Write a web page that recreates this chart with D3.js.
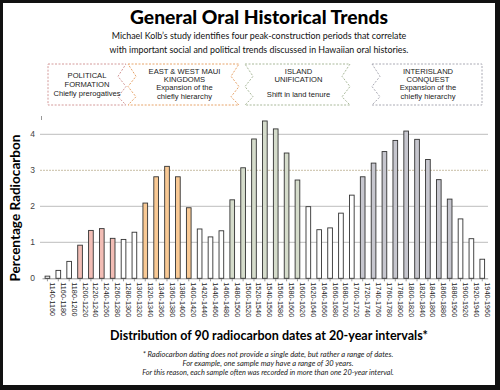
<!DOCTYPE html>
<html><head><meta charset="utf-8">
<script src="https://cdn.jsdelivr.net/npm/d3@7"></script>
<style>
html,body{margin:0;padding:0;background:#fff;}
svg{display:block;}
</style></head>
<body>
<script>
// ---- data ----
const categories = ["1140-1160","1160-1180","1180-1200","1200-1220","1220-1240","1240-1260","1260-1280","1280-1300","1300-1320","1320-1340","1340-1360","1360-1380","1380-1400","1400-1420","1420-1440","1440-1460","1460-1480","1480-1500","1500-1520","1520-1540","1540-1560","1560-1580","1580-1600","1600-1620","1620-1640","1640-1660","1660-1680","1680-1700","1700-1720","1720-1740","1740-1760","1760-1780","1780-1800","1800-1820","1820-1840","1840-1860","1860-1880","1880-1900","1900-1920","1920-1940","1940-1960"];
const values = [0.06,0.22,0.47,0.92,1.33,1.38,1.11,1.08,1.28,2.09,2.82,3.11,2.82,1.96,1.37,1.15,1.32,2.18,3.07,3.87,4.37,4.15,3.48,2.73,1.99,1.35,1.40,1.81,2.31,2.82,3.20,3.52,3.83,4.09,3.86,3.30,2.74,2.20,1.65,1.10,0.53];
const yTicks = [0,1,2,3,4];
const periodNames = ["political","maui","unification","conquest"];
const periodFrom = ["1200-1220","1320-1340","1480-1500","1720-1740"];
const periodTo   = ["1260-1280","1400-1420","1600-1620","1880-1900"];
const periodLines = [
  ["POLITICAL","FORMATION","Chiefly prerogatives"],
  ["EAST & WEST MAUI","KINGDOMS","Expansion of the","chiefly hierarchy"],
  ["ISLAND","UNIFICATION","","Shift in land tenure"],
  ["INTERISLAND","CONQUEST","Expansion of the","chiefly hierarchy"]
];
const title = "General Oral Historical Trends";
const subtitle = ["Michael Kolb\u2019s study identifies four peak-construction periods that correlate","with important social and political trends discussed in Hawaiian oral histories."];
const yLabel = "Percentage Radiocarbon";
const xLabel = "Distribution of 90 radiocarbon dates at 20-year intervals*";
const footnotes = ["* Radiocarbon dating does not provide a single date, but rather a range of dates.","For example, one sample may have a range of 30 years.","For this reason, each sample often was recorded in more than one 20-year interval."];

// ---- styles ----
const fillColors = {political:"#f2bdb5", maui:"#f9c994", unification:"#d5dccb", conquest:"#c6c6ce"};
const strokeColors = {political:"#d49a9a", maui:"#e7a46a", unification:"#a9b99a", conquest:"#aaaab4"};

const W = 500, H = 390;
const svg = d3.select("body").append("svg").attr("width", W).attr("height", H);

// frame
svg.append("rect").attr("x",0).attr("y",0).attr("width",W).attr("height",H).attr("fill","#111");
svg.append("rect").attr("x",3).attr("y",3).attr("width",492).attr("height",382).attr("fill","#fff");

function fitText(sel, target){
  const n = sel.node(); const fs = parseFloat(sel.attr("font-size"));
  const w = n.getComputedTextLength();
  if (w > 0) sel.attr("font-size", (fs*target/w).toFixed(2));
}

// title
const t = svg.append("text").attr("x",259).attr("y",23.5).attr("text-anchor","middle")
  .attr("font-family","Lato, 'DejaVu Sans', sans-serif").attr("font-weight",900).attr("font-size",19)
  .attr("fill","#000").text(title);
fitText(t, 258);

subtitle.forEach((s,i)=>{
  const st = svg.append("text").attr("x",259).attr("y",39.3+13.3*i).attr("text-anchor","middle")
    .attr("font-family","Lato, sans-serif").attr("font-size",11).attr("fill","#111").text(s);
  fitText(st, i===0?295:299);
});

// scales
const x = d3.scaleBand().domain(categories).range([42, 487.7]).paddingInner(0.57).paddingOuter(0.285);
const y = d3.scaleLinear().domain([0,4]).range([278.3, 134.3]);

const periodOf = {};
periodNames.forEach((p,k)=>{
  const a = categories.indexOf(periodFrom[k]), b = categories.indexOf(periodTo[k]);
  for(let i=a;i<=b;i++) periodOf[categories[i]] = p;
});

// gridlines
svg.append("g").selectAll("line").data(yTicks.filter(d=>d>0)).join("line")
  .attr("x1",40).attr("x2",488).attr("y1",d=>y(d)).attr("y2",d=>y(d))
  .attr("stroke",d=>d===3?"#c9bfa5":"#bdbdbd").attr("stroke-width",1)
  .attr("stroke-dasharray",d=>d===3?"2,1":null);

// y tick labels
svg.append("g").selectAll("text").data(yTicks).join("text")
  .attr("x",35).attr("y",d=>y(d)+3).attr("text-anchor","end")
  .attr("font-family","Liberation Sans, Arial, sans-serif").attr("font-size",8.5).attr("fill","#444")
  .text(d=>d);

// x axis
const xAxis = svg.append("g").attr("transform",`translate(0,${y(0)})`)
  .call(d3.axisBottom(x).tickSize(3).tickSizeOuter(0));
xAxis.select(".domain").attr("stroke","#999");
xAxis.selectAll(".tick line").attr("stroke","#999");
xAxis.selectAll(".tick text")
  .attr("font-family","Liberation Sans, Arial, sans-serif").attr("font-size",7.3).attr("fill","#222")
  .attr("text-anchor","start").attr("dy",null)
  .attr("transform","translate(2.5,0) rotate(90)").attr("x",4).attr("y",0);

// bars
svg.append("g").selectAll("rect").data(categories).join("rect")
  .attr("x",d=>x(d)).attr("width",x.bandwidth())
  .attr("y",(d,i)=>y(values[i])).attr("height",(d,i)=>y(0)-y(values[i]))
  .attr("fill",d=>periodOf[d]?fillColors[periodOf[d]]:"#fff")
  .attr("stroke","#333").attr("stroke-width",0.9);

// y label
svg.append("text").attr("transform","translate(20,208) rotate(-90)").attr("text-anchor","middle")
  .attr("font-family","Lato, sans-serif").attr("font-weight",700).attr("font-size",13.5)
  .attr("fill","#000").text(yLabel).call(s=>fitText(s,147));

// x label
svg.append("text").attr("x",269).attr("y",339.5).attr("text-anchor","middle")
  .attr("font-family","Lato, sans-serif").attr("font-weight",700).attr("font-size",13)
  .attr("fill","#000").text(xLabel).call(s=>fitText(s,318));

footnotes.forEach((f,i)=>{
  svg.append("text").attr("x",268).attr("y",356.5+9*i).attr("text-anchor","middle")
    .attr("font-family","Lato, sans-serif").attr("font-style","italic").attr("font-size",7.5)
    .attr("fill","#222").text(f).call(s=>fitText(s, i===1?171:(i===0?251:252)));
});

// legend boxes
const boxL = [48, 128, 245, 372];
const boxR = [126, 239, 350, 482];
const zigL = [false, true, true, true];
const zigR = [true, true, true, false];
const boxTop = 64, boxBot = 105, amp = 8;
function boxPath(k){
  const l = boxL[k], r = boxR[k];
  const h = boxBot-boxTop;
  let p = `M${l},${boxTop} L${r},${boxTop}`;
  if (zigR[k]) {
    p += ` L${r-amp},${boxTop+h*0.3} L${r},${boxTop+h*0.55} L${r-amp},${boxTop+h*0.8} L${r},${boxBot}`;
  } else p += ` L${r},${boxBot}`;
  p += ` L${l},${boxBot}`;
  if (zigL[k]) {
    p += ` L${l+amp},${boxTop+h*0.8} L${l},${boxTop+h*0.55} L${l+amp},${boxTop+h*0.3} L${l},${boxTop}`;
  } else p += ` Z`;
  return p;
}
const lg = svg.append("g");
periodNames.forEach((p,k)=>{
  lg.append("path").attr("d",boxPath(k)).attr("fill","#fff")
    .attr("stroke",strokeColors[p]).attr("stroke-width",1).attr("stroke-dasharray","2,1.5");
  const cx = k===0 ? 87 : (boxL[k]+boxR[k])/2 + 1;
  const lines = periodLines[k];
  const y0 = k===0 ? 77.5 : 73.5;
  const dy = k===0 ? 9 : 8.4;
  lines.forEach((s,j)=>{
    if(!s) return;
    lg.append("text").attr("x",cx).attr("y", (k===2 && j===3)? 96.8 : y0+dy*j)
      .attr("text-anchor","middle").attr("font-family","Liberation Sans, Arial, sans-serif")
      .attr("font-size",7.6).attr("fill","#222").text(s);
  });
});
// small mark at top of axis
svg.append("line").attr("x1",41.5).attr("x2",41.5).attr("y1",116).attr("y2",120).attr("stroke","#999");
</script>
</body></html>
